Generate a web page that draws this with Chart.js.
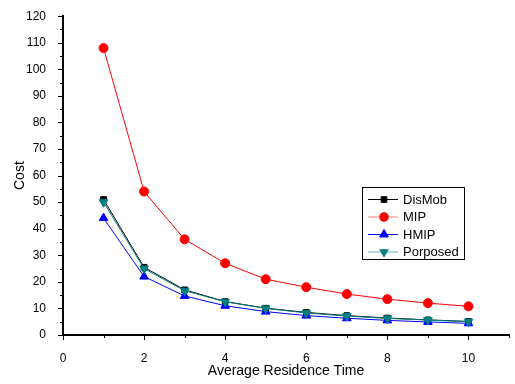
<!DOCTYPE html>
<html>
<head>
<meta charset="utf-8">
<script src="https://cdn.jsdelivr.net/npm/chart.js@4/dist/chart.umd.min.js"></script>
<style>
  html, body { margin: 0; padding: 0; background: #fff; }
  #wrap { width: 515px; height: 384px; }
</style>
</head>
<body>
<div id="wrap"><canvas id="costChart" width="515" height="384"></canvas></div>
<script>
// Données
const residenceTimes = [1, 2, 3, 4, 5, 6, 7, 8, 9, 10];
const disMobCost   = [51, 25.5, 17, 12.6, 10.1, 8.5, 7.3, 6.4, 5.7, 5.1];
const mipCost      = [108, 54, 36, 27, 21, 18, 15.4, 13.5, 12, 10.8];
const hmipCost     = [44, 22, 14.7, 11, 8.8, 7.3, 6.3, 5.5, 4.9, 4.4];
const proposedCost = [50, 25, 16.7, 12.5, 10, 8.3, 7.1, 6.25, 5.6, 5];
const xTicks = [0, 2, 4, 6, 8, 10];
const yTicks = [0, 10, 20, 30, 40, 50, 60, 70, 80, 90, 100, 110, 120];

const FONT = 'Liberation Sans, Arial, sans-serif';

function toPoints(values) {
    return residenceTimes.map((x, i) => ({ x: x, y: values[i] }));
}

// Graduations majeures / mineures dessinées à la main
const tickMarksPlugin = {
    id: 'tickMarks',
    afterDraw(chart) {
        const ctx = chart.ctx;
        const xs = chart.scales.x;
        const ys = chart.scales.y;
        ctx.save();
        ctx.strokeStyle = '#000';
        ctx.lineWidth = 1;
        ctx.beginPath();
        for (let v = xs.min; v <= xs.max; v += 1) {
            const px = Math.round(xs.getPixelForValue(v)) + 0.5;
            const len = xTicks.includes(v) ? 5 : 3;
            ctx.moveTo(px, xs.top);
            ctx.lineTo(px, xs.top + len);
        }
        for (let v = ys.min; v <= ys.max; v += 5) {
            const py = Math.round(ys.getPixelForValue(v)) + 0.5;
            const len = yTicks.includes(v) ? 5 : 3;
            ctx.moveTo(ys.right, py);
            ctx.lineTo(ys.right - len, py);
        }
        ctx.stroke();
        ctx.restore();
    }
};

// Légende encadrée à l'intérieur de la zone de tracé
const boxLegendPlugin = {
    id: 'boxLegend',
    afterDraw(chart) {
        const ctx = chart.ctx;
        const left = 362, top = 187, width = 102, height = 72;
        const rowH = 17.5;
        ctx.save();
        ctx.fillStyle = '#fff';
        ctx.fillRect(left, top, width, height);
        ctx.strokeStyle = '#000';
        ctx.lineWidth = 1;
        ctx.strokeRect(left + 0.5, top + 0.5, width, height);
        ctx.font = '13px ' + FONT;
        ctx.textBaseline = 'middle';
        chart.data.datasets.forEach((ds, i) => {
            const y = top + 12 + i * rowH;
            ctx.strokeStyle = ds.legendLine || ds.borderColor;
            ctx.lineWidth = 1;
            ctx.beginPath();
            ctx.moveTo(left + 6, y + 0.5);
            ctx.lineTo(left + 36, y + 0.5);
            ctx.stroke();
            Chart.helpers.drawPoint(ctx, {
                pointStyle: ds.pointStyle,
                radius: ds.pointRadius,
                rotation: ds.pointRotation || 0,
                borderWidth: 1
            }, left + 22, y + 0.5);
            ctx.fillStyle = ds.backgroundColor;
            ctx.fill();
            ctx.fillStyle = '#000';
            ctx.fillText(ds.label, left + 41, y + 1);
        });
        ctx.restore();
    }
};

function makeDataset(label, values, color, style, extra) {
    return Object.assign({
        label: label,
        data: toPoints(values),
        borderColor: color,
        backgroundColor: color,
        pointBackgroundColor: color,
        pointBorderColor: color,
        borderWidth: 1,
        pointStyle: style,
        pointRadius: 4,
        pointBorderWidth: 1,
        tension: 0
    }, extra || {});
}

const datasets = [
    makeDataset('DisMob', disMobCost, '#000000', 'rect', { order: 3, pointRadius: 4 }),
    makeDataset('MIP', mipCost, '#ff0000', 'circle', { order: 2, pointRadius: 4.5, legendLine: '#ff8080' }),
    makeDataset('HMIP', hmipCost, '#0000ff', 'triangle', { order: 1, pointRadius: 5 }),
    makeDataset('Porposed', proposedCost, '#008080', 'triangle', { order: 0, pointRadius: 5, pointRotation: 180, legendLine: '#66b3b3' })
];

new Chart(document.getElementById('costChart'), {
    type: 'line',
    data: { datasets: datasets },
    options: {
        responsive: false,
        animation: false,
        devicePixelRatio: 1,
        layout: { padding: { top: 12, right: 1, left: 0, bottom: 0 } },
        plugins: {
            legend: { display: false },
            tooltip: { enabled: false }
        },
        elements: { point: { pointStyle: 'circle' } },
        scales: {
            x: {
                type: 'linear',
                min: 0,
                max: 11,
                afterFit(scale) { scale.height = 49; },
                afterBuildTicks(scale) { scale.ticks = xTicks.map(v => ({ value: v })); },
                grid: { display: false },
                border: { display: true, color: '#000', width: 2 },
                ticks: { color: '#000', font: { family: FONT, size: 12 }, padding: 8, maxRotation: 0 },
                title: {
                    display: true,
                    text: 'Average Residence Time',
                    color: '#000',
                    font: { family: FONT, size: 14 },
                    padding: { top: 6, bottom: 4 }
                }
            },
            y: {
                type: 'linear',
                min: 0,
                max: 120,
                afterFit(scale) { scale.width = 63; },
                afterBuildTicks(scale) { scale.ticks = yTicks.map(v => ({ value: v })); },
                grid: { display: false },
                border: { display: true, color: '#000', width: 2 },
                ticks: { color: '#000', font: { family: FONT, size: 12 }, padding: 9 },
                title: {
                    display: true,
                    text: 'Cost',
                    color: '#000',
                    font: { family: FONT, size: 14 },
                    padding: { top: 12, bottom: 0 }
                }
            }
        }
    },
    plugins: [tickMarksPlugin, boxLegendPlugin]
});
</script>
</body>
</html>
